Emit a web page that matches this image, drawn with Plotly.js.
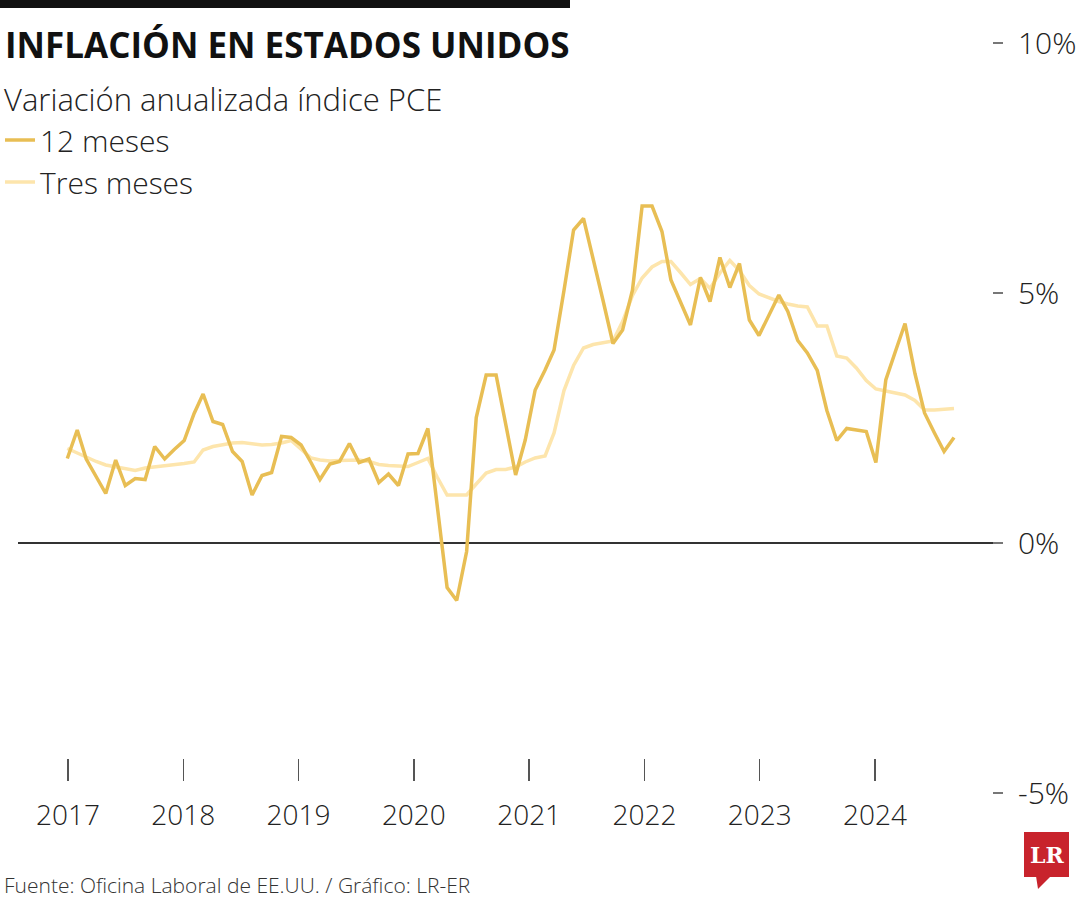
<!DOCTYPE html>
<html>
<head>
<meta charset="utf-8">
<script src="https://cdn.plot.ly/plotly-3.0.1.min.js"></script>
<style>
  html, body { margin: 0; padding: 0; background: #ffffff; }
  #chart { width: 1080px; height: 900px; }
</style>
</head>
<body>
<div id="chart"></div>
<script>
// ---------- DATA ----------
const startYear = 2017;
const yearLabels = ['2017', '2018', '2019', '2020', '2021', '2022', '2023', '2024'];
const yearTicks = [2017, 2018, 2019, 2020, 2021, 2022, 2023, 2024];
const yTickVals = [-5, 0, 5, 10];
const yTickText = ['-5%', '0%', '5%', '10%'];
const seriesNames = ['12 meses', 'Tres meses'];

// Monthly values, Jan 2017 - Aug 2024 (%)
const doceMeses = [
  1.69, 2.26, 1.68, 1.33, 0.99, 1.66, 1.15, 1.29, 1.27, 1.93, 1.68, 1.87,
  2.05, 2.59, 2.98, 2.43, 2.37, 1.83, 1.63, 0.96, 1.35, 1.41, 2.13, 2.11,
  1.96, 1.61, 1.27, 1.58, 1.63, 1.99, 1.61, 1.68, 1.21, 1.38, 1.15, 1.78,
  1.79, 2.29, 0.75, -0.89, -1.15, -0.17, 2.51, 3.36, 3.36, 2.36, 1.36, 2.06,
  3.06, 3.46, 3.86, 5.05, 6.26, 6.49, 5.70, 4.85, 3.99, 4.26, 5.06, 6.74,
  6.74, 6.23, 5.26, 4.81, 4.36, 5.31, 4.83, 5.71, 5.11, 5.59, 4.46, 4.15,
  4.55, 4.96, 4.63, 4.05, 3.80, 3.45, 2.65, 2.05, 2.29, 2.26, 2.23, 1.61,
  3.26, 3.85, 4.39, 3.39, 2.60, 2.20, 1.83, 2.11
];
const tresMeses = [
  1.89, 1.80, 1.71, 1.63, 1.56, 1.52, 1.48, 1.45, 1.50, 1.52, 1.54, 1.57,
  1.59, 1.62, 1.86, 1.93, 1.97, 2.00, 2.01, 1.99, 1.96, 1.97, 2.00, 2.05,
  1.88, 1.70, 1.66, 1.64, 1.65, 1.66, 1.66, 1.63, 1.57, 1.55, 1.54, 1.53,
  1.61, 1.69, 1.32, 0.96, 0.96, 0.96, 1.18, 1.40, 1.47, 1.47, 1.52, 1.62,
  1.70, 1.74, 2.20, 3.05, 3.55, 3.90, 3.97, 4.00, 4.04, 4.43, 4.95, 5.30,
  5.52, 5.63, 5.63, 5.40, 5.17, 5.29, 5.09, 5.40, 5.65, 5.45, 5.15, 4.98,
  4.90, 4.83, 4.78, 4.74, 4.72, 4.34, 4.34, 3.74, 3.70, 3.50, 3.25, 3.08,
  3.04, 3.00, 2.96, 2.85, 2.66, 2.66, 2.67, 2.69
];

// month dates (categories)
const months = doceMeses.map((_, i) => {
  const y = startYear + Math.floor(i / 12);
  const m = (i % 12) + 1;
  return y + '-' + String(m).padStart(2, '0') + '-01';
});

// ---------- LAYOUT HELPERS ----------
const W = 1080, H = 900;
const M = { l: 18, r: 77, t: 41, b: 105, autoexpand: false };
const PW = W - M.l - M.r, PH = H - M.t - M.b;
const px = x => (x - M.l) / PW;          // pixel -> paper x
const py = y => (H - M.b - y) / PH;      // pixel -> paper y

const FONT = '"Open Sans", "Noto Sans", sans-serif';
const GOLD = 'rgb(232,190,84)';
const PALE = 'rgb(253,229,172)';

const traces = [
  {
    type: 'scatter', mode: 'lines', name: seriesNames[1],
    x: months, y: tresMeses,
    line: { color: PALE, width: 3.5 },
    hoverinfo: 'skip', legendrank: 2
  },
  {
    type: 'scatter', mode: 'lines', name: seriesNames[0],
    x: months, y: doceMeses,
    line: { color: GOLD, width: 3.5 },
    hoverinfo: 'skip', legendrank: 1
  },
  // carrier for the year axis (no visible marks)
  {
    type: 'scatter', mode: 'lines', xaxis: 'x2', yaxis: 'y',
    x: yearTicks, y: yearTicks.map(() => null),
    showlegend: false, hoverinfo: 'skip'
  }
];

const layout = {
  width: W, height: H,
  margin: M,
  paper_bgcolor: '#ffffff', plot_bgcolor: '#ffffff',
  font: { family: FONT, color: '#1f1f1f' },
  title: {
    text: 'INFLACIÓN EN ESTADOS UNIDOS',
    font: { family: FONT, size: 35, weight: 700, color: '#111111' },
    x: 5 / W, xanchor: 'left', xref: 'container',
    y: 1 - 46 / H, yanchor: 'middle', yref: 'container'
  },
  showlegend: true,
  legend: {
    x: px(0), xanchor: 'left',
    y: py(114), yanchor: 'top',
    font: { family: FONT, size: 30, weight: 300, color: '#222222' },
    bgcolor: 'rgba(0,0,0,0)',
    itemwidth: 30, tracegroupgap: 0,
    traceorder: 'normal'
  },
  xaxis: {
    type: 'date',
    range: ['2016-07-31', '2025-01-01'],
    visible: false, fixedrange: true
  },
  xaxis2: {
    type: 'linear',
    overlaying: 'x', anchor: 'free',
    position: py(758),
    side: 'bottom',
    range: [2017 - (68 - M.l) / 115.29, 2024 + (M.l + PW - 875) / 115.29],
    tickmode: 'array', tickvals: yearTicks, ticktext: yearLabels,
    ticks: 'outside', ticklen: 22, tickwidth: 1.5, tickcolor: '#555555',
    ticklabelstandoff: 10,
    tickfont: { family: FONT, size: 28, weight: 300, color: '#222222' },
    showgrid: false, zeroline: false, showline: false, fixedrange: true
  },
  yaxis: {
    range: [-5.04, 10.04], side: 'right',
    tickmode: 'array', tickvals: yTickVals, ticktext: yTickText,
    ticks: 'inside', ticklen: 10, tickwidth: 1.5, tickcolor: '#777777',
    ticklabelstandoff: 14,
    tickfont: { family: FONT, size: 30, weight: 300, color: '#222222' },
    showgrid: false, showline: false,
    zeroline: true, zerolinecolor: '#333333', zerolinewidth: 1.3,
    fixedrange: true
  },
  shapes: [
    { type: 'rect', xref: 'paper', yref: 'paper',
      x0: px(0), x1: px(570), y0: py(8), y1: py(0),
      fillcolor: '#111111', line: { width: 0 } },
    { type: 'rect', xref: 'paper', yref: 'paper',
      x0: px(1024), x1: px(1069), y0: py(877), y1: py(832),
      fillcolor: '#C8232C', line: { width: 0 } },
    { type: 'path', xref: 'paper', yref: 'paper',
      path: 'M ' + px(1036) + ',' + py(876) + ' L ' + px(1051) + ',' + py(876) +
            ' L ' + px(1038) + ',' + py(889) + ' Z',
      fillcolor: '#C8232C', line: { width: 0 } }
  ],
  annotations: [
    { xref: 'paper', yref: 'paper', x: px(2), y: py(99),
      xanchor: 'left', yanchor: 'middle', showarrow: false,
      text: 'Variación anualizada índice PCE',
      font: { family: FONT, size: 31, weight: 300, color: '#222222' } },
    { xref: 'paper', yref: 'paper', x: px(2), y: py(885),
      xanchor: 'left', yanchor: 'middle', showarrow: false,
      text: 'Fuente: Oficina Laboral de EE.UU. / Gráfico: LR-ER',
      font: { family: FONT, size: 21, weight: 300, color: '#333333' } },
    { xref: 'paper', yref: 'paper', x: px(1046.5), y: py(855),
      xanchor: 'center', yanchor: 'middle', showarrow: false,
      text: '<b>LR</b>',
      font: { family: '"DejaVu Serif", "Liberation Serif", serif', size: 22, color: '#ffffff' } }
  ]
};

Plotly.newPlot('chart', traces, layout, { displayModeBar: false, staticPlot: true });
</script>
</body>
</html>
